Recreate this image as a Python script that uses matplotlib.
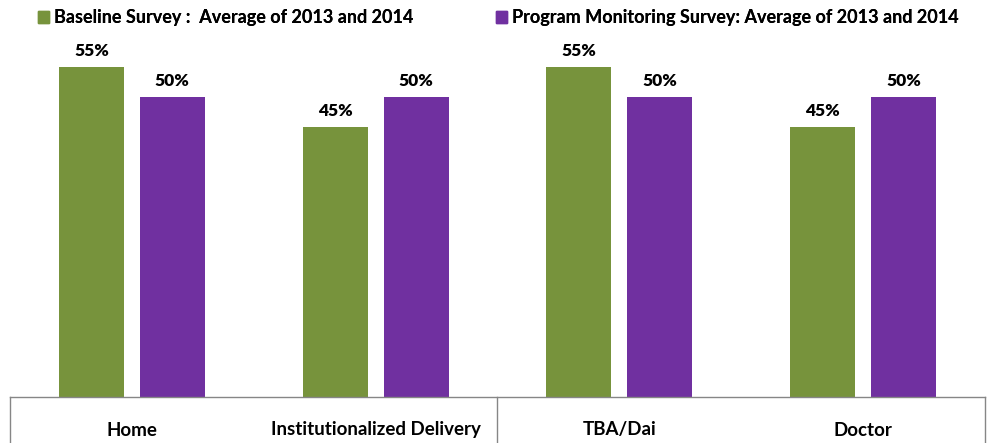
import numpy as np
import matplotlib
matplotlib.use("Agg")
import matplotlib.pyplot as plt
from matplotlib.patches import Patch

plt.rcParams['font.family'] = ['Lato', 'DejaVu Sans']

categories = ["Home", "Institutionalized Delivery", "TBA/Dai", "Doctor"]
baseline = [55, 45, 55, 45]
monitoring = [50, 50, 50, 50]
series_names = ["Baseline Survey :  Average of 2013 and 2014",
                "Program Monitoring Survey: Average of 2013 and 2014"]

green = "#77933C"
purple = "#7030A0"

fig = plt.figure(figsize=(9.89, 4.43), dpi=100)
ax = fig.add_axes([10 / 989, 46 / 443, 975 / 989, 360 / 443])

x = np.arange(len(categories))
w = 0.267
off = 0.166
b1 = ax.bar(x - off, baseline, w, color=green)
b2 = ax.bar(x + off, monitoring, w, color=purple)

for bars, vals in ((b1, baseline), (b2, monitoring)):
    for r, v in zip(bars, vals):
        ax.annotate(f"{v}%", (r.get_x() + r.get_width() / 2, v),
                    xytext=(0, 6), textcoords="offset points",
                    ha="center", va="bottom", fontsize=12.5, fontweight="heavy")

ax.set_xlim(-0.5, 3.5)
ax.set_ylim(0, 60)
ax.set_yticks([])
ax.set_xticks([])
for s in ("top", "left", "right"):
    ax.spines[s].set_visible(False)
ax.spines["bottom"].set_color("#868686")
ax.spines["bottom"].set_linewidth(1.0)

# category box below the axis
for xf in (0.0, 0.5, 1.0):
    ax.plot([xf, xf], [0, -50 / 360], transform=ax.transAxes, color="#868686",
            lw=1.0, clip_on=False)
for xi, c in zip(x, categories):
    ax.text(xi, -33 / 360 * 60, c, ha="center", va="center",
            fontsize=13.5, fontweight="bold")

# two legend entries, placed separately like the original
for col, name, xpos in ((green, series_names[0], 38), (purple, series_names[1], 496)):
    lg = fig.legend([Patch(color=col)], [name], loc="center left",
                    bbox_to_anchor=(xpos / 989, 1 - 18 / 443), frameon=False,
                    prop={"weight": "bold", "size": 13},
                    handlelength=0.6, handleheight=0.6, handletextpad=0.3,
                    borderpad=0, borderaxespad=0)
    fig.add_artist(lg)

fig.savefig("out.png", dpi=100)
